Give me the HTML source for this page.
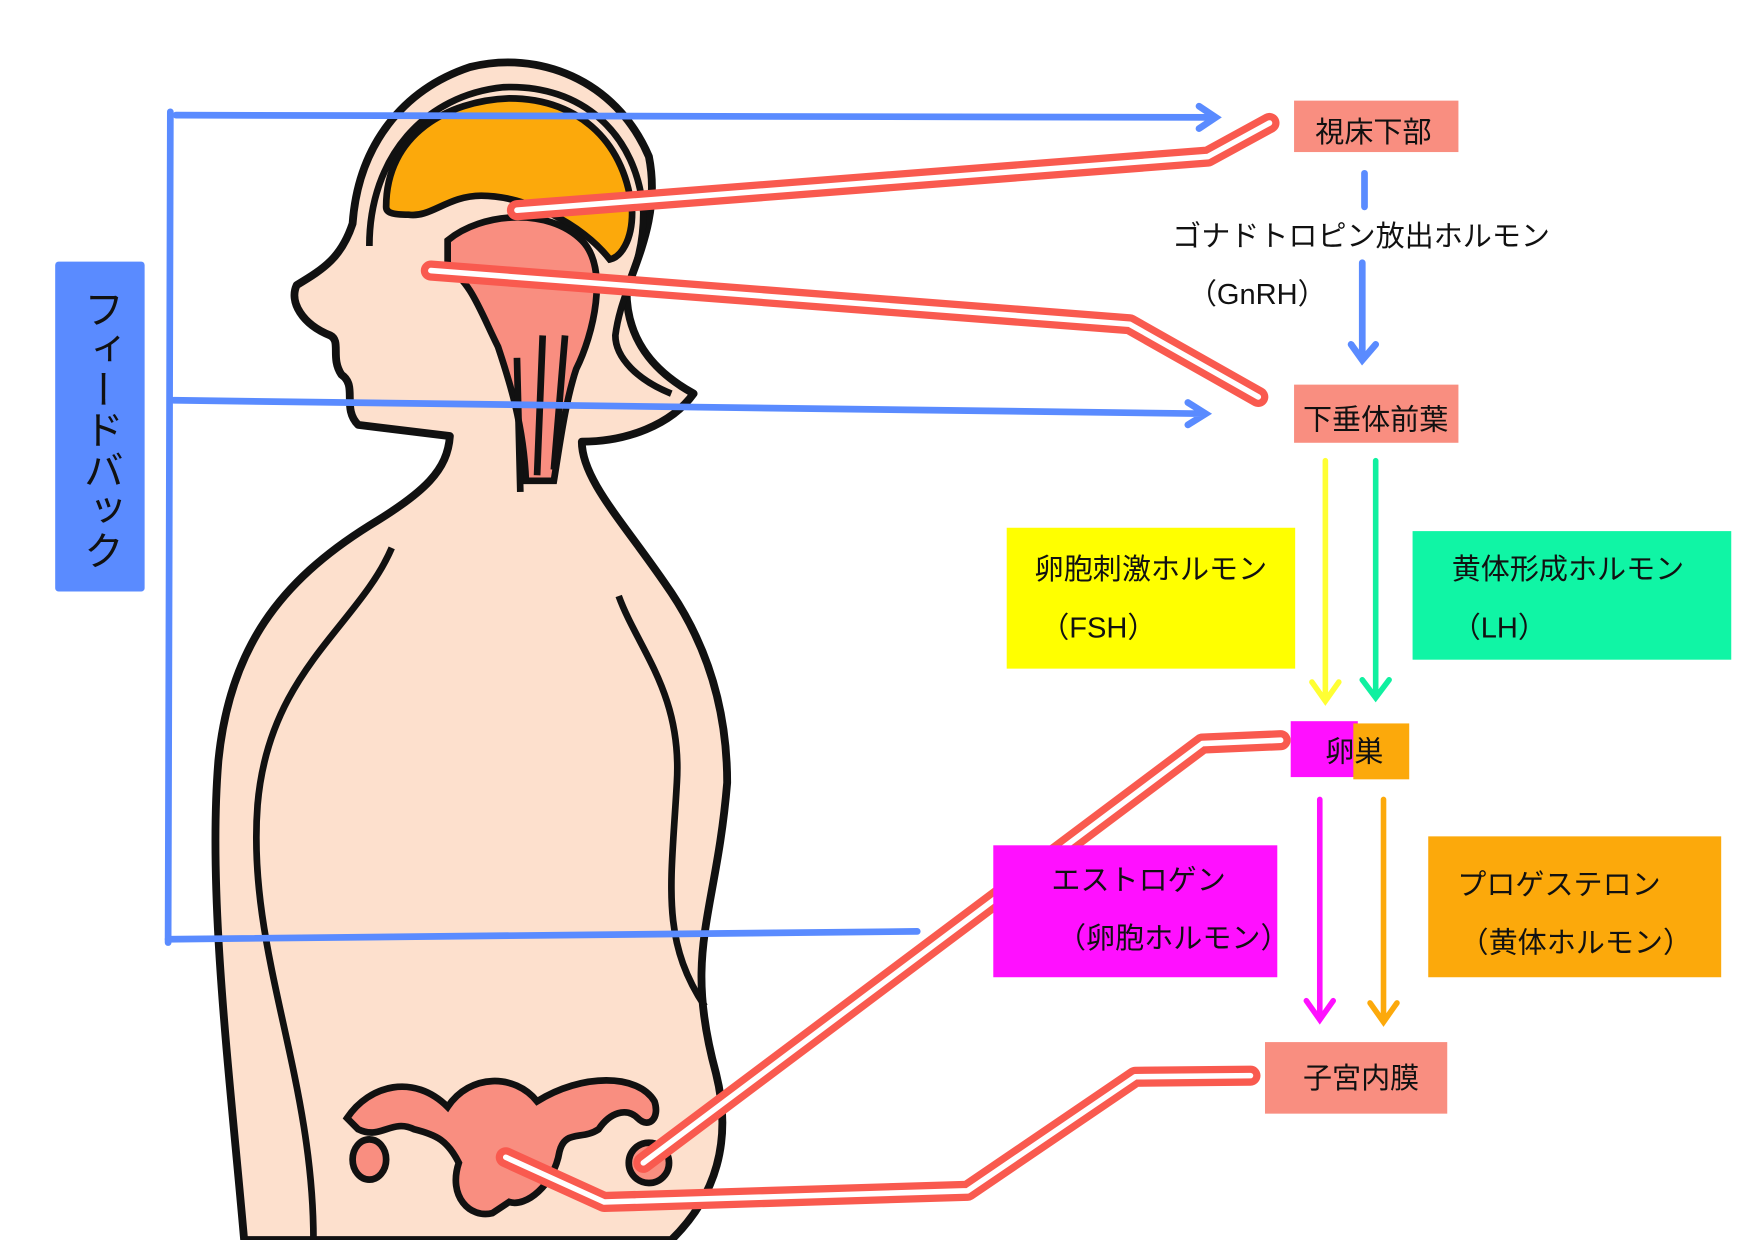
<!DOCTYPE html>
<html><head><meta charset="utf-8"><style>
html,body{margin:0;padding:0;background:#fff}
svg{display:block}
text{font-family:"Liberation Sans","Noto Sans CJK JP",sans-serif;fill:#111}
</style></head><body>
<svg width="1754" height="1240" viewBox="0 0 1568 1109" xmlns="http://www.w3.org/2000/svg">
<path d="M218,1109 C205,960 185,800 195,680 C205,580 250,520 330,470 C380,440 400,420 402,390 L320,380 C305,365 320,345 305,335 C295,320 305,305 295,300 C270,290 258,270 265,255 C290,240 305,230 315,200 C320,130 360,80 420,60 C480,45 550,70 580,140 C590,190 570,230 560,260 C560,300 580,330 620,352 C600,380 560,395 520,395 C520,430 560,470 600,530 C640,590 650,650 650,700 C640,820 610,850 640,960 C655,1020 640,1070 600,1109 Z" fill="#fde0cd" stroke="#111" stroke-width="7" stroke-linejoin="round"/>
<path d="M330,220 C330,140 380,85 450,78 C520,75 570,120 575,190 C575,240 555,260 550,300 C550,320 570,340 600,352" fill="none" stroke="#111" stroke-width="6"/>
<path d="M345,185 C345,120 400,90 455,88 C520,88 560,130 565,190 C565,215 555,230 545,232 C520,200 470,175 430,175 C400,175 385,195 365,192 C350,192 345,190 345,185 Z" fill="#fca90b" stroke="#111" stroke-width="6"/>
<path d="M400,215 C430,190 490,185 520,215 C545,240 530,300 515,330 C505,360 500,400 495,430 L470,430 C468,380 455,340 445,310 C430,280 420,250 400,240 Z" fill="#f98e80" stroke="#111" stroke-width="6"/>
<path d="M465,440 L462,320 M480,425 L485,300 M495,420 L505,300" stroke="#111" stroke-width="6" fill="none"/>
<path d="M350,490 C320,560 240,600 230,720 C220,850 280,960 280,1109" fill="none" stroke="#111" stroke-width="6"/>
<path d="M553,533 C570,580 610,620 605,700 C600,790 590,840 630,900" fill="none" stroke="#111" stroke-width="6"/>
<path d="M310,1000 C330,970 370,960 400,990 C420,960 460,960 480,985 C520,960 570,960 585,985 C590,1000 580,1010 570,1000 C560,990 545,995 535,1010 C520,1020 505,1010 500,1030 C495,1060 470,1080 455,1075 L440,1085 C420,1090 400,1070 410,1040 C400,1020 390,1015 370,1010 C350,1000 340,1020 320,1010 Z" fill="#f98e80" stroke="#111" stroke-width="6"/>
<ellipse cx="330" cy="1037" rx="15" ry="18" fill="#f98e80" stroke="#111" stroke-width="6"/>
<ellipse cx="580" cy="1040" rx="18" ry="18" fill="#f98e80" stroke="#111" stroke-width="6"/>
<rect x="49" y="234" width="80" height="295" rx="3" fill="#5a8bff"/>
<text x="89" y="258" font-size="36" style="writing-mode:vertical-rl" fill="#111">フィードバック</text>
<g stroke="#5a8bff" stroke-width="6" fill="none" stroke-linecap="round">
<path d="M152,100 L150,843"/>
<path d="M157,103 L1085,105 M1072,95 L1087,105 L1072,115"/>
<path d="M155,358 L1075,370 M1062,360 L1078,370 L1062,380"/>
<path d="M150,840 L820,833"/>
<path d="M1220,155 L1220,185 M1218,235 L1218,320 M1208,308 L1218,322 L1230,308"/>
</g>
<g fill="none" stroke-linecap="round" stroke-linejoin="round">
<path d="M462,188 L1080,140 L1135,110" stroke="#f95a4f" stroke-width="18"/>
<path d="M462,188 L1080,140 L1135,110" stroke="#fff" stroke-width="5"/>
<path d="M385,242 L1010,290 L1125,355" stroke="#f95a4f" stroke-width="18"/>
<path d="M385,242 L1010,290 L1125,355" stroke="#fff" stroke-width="5"/>
<path d="M575,1040 L1075,665 L1145,662" stroke="#f95a4f" stroke-width="18"/>
<path d="M575,1040 L1075,665 L1145,662" stroke="#fff" stroke-width="5"/>
<path d="M452,1035 L540,1075 L865,1065 L1015,963 L1118,962" stroke="#f95a4f" stroke-width="18"/>
<path d="M452,1035 L540,1075 L865,1065 L1015,963 L1118,962" stroke="#fff" stroke-width="5"/>
</g>
<rect x="1157" y="90" width="147" height="46" fill="#f98e80"/>
<text x="1176" y="127" font-size="26">視床下部</text>
<text x="1048" y="220" font-size="26">ゴナドトロピン放出ホルモン</text>
<text x="1062" y="272" font-size="26">（GnRH）</text>
<rect x="1157" y="344" width="147" height="52" fill="#f98e80"/>
<text x="1165" y="384" font-size="26">下垂体前葉</text>
<g stroke-width="5" fill="none" stroke-linecap="round">
<path d="M1185,412 L1185,625 M1173,610 L1185,627 L1197,610" stroke="#ffff33"/>
<path d="M1230,412 L1230,622 M1218,608 L1230,624 L1242,608" stroke="#10f0a0"/>
<path d="M1180,715 L1180,910 M1168,895 L1180,912 L1192,895" stroke="#ff10ff"/>
<path d="M1237,715 L1237,912 M1225,897 L1237,914 L1249,897" stroke="#fca90b"/>
</g>
<rect x="900" y="472" width="258" height="126" fill="#ffff00"/>
<text x="925" y="518" font-size="26">卵胞刺激ホルモン</text>
<text x="930" y="570" font-size="26">（FSH）</text>
<rect x="1263" y="475" width="285" height="115" fill="#10f5a5"/>
<text x="1298" y="518" font-size="26">黄体形成ホルモン</text>
<text x="1298" y="570" font-size="26">（LH）</text>
<rect x="1154" y="645" width="60" height="50" fill="#ff10ff"/>
<rect x="1210" y="647" width="50" height="50" fill="#fca90b"/>
<text x="1185" y="681" font-size="26">卵巣</text>
<rect x="888" y="756" width="254" height="118" fill="#ff10ff"/>
<text x="940" y="796" font-size="26">エストロゲン</text>
<text x="945" y="848" font-size="26">（卵胞ホルモン）</text>
<rect x="1277" y="748" width="262" height="126" fill="#fca90b"/>
<text x="1303" y="800" font-size="26">プロゲステロン</text>
<text x="1305" y="852" font-size="26">（黄体ホルモン）</text>
<rect x="1131" y="932" width="163" height="64" fill="#f98e80"/>
<text x="1165" y="973" font-size="26">子宮内膜</text>
</svg>
</body></html>
